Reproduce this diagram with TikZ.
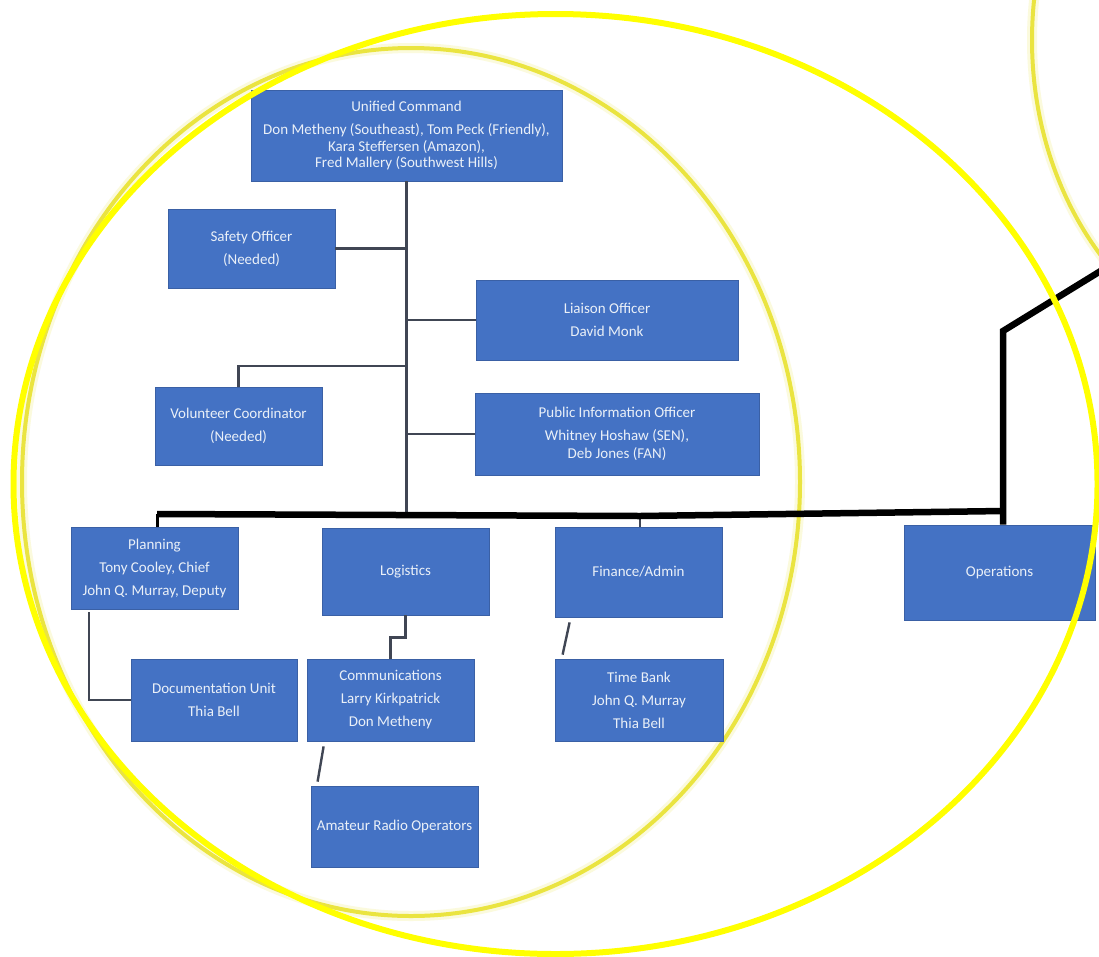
\documentclass[tikz,border=0pt]{standalone}
\usepackage{fontspec}
\setmainfont{Carlito}
\usetikzlibrary{calc}
\begin{document}
\begin{tikzpicture}[x=1pt,y=-1pt,
  box/.style={draw={rgb,255:red,58;green,96;blue,165}, line width=0.8pt,
    fill={rgb,255:red,68;green,114;blue,196},
    text={rgb,255:red,234;green,240;blue,248},
    font=\fontsize{15}{18}\selectfont, align=center, inner sep=0pt},
  link/.style={draw={rgb,255:red,64;green,70;blue,84}, line width=2.4pt},
  bar/.style={draw=black, line width=6.5pt},
  ring/.style={draw={rgb,255:red,255;green,255;blue,0}, line width=6pt},
  softring/.style={draw={rgb,255:red,234;green,228;blue,64}, line width=4pt},
  halo/.style={draw={rgb,255:red,240;green,236;blue,120}, opacity=0.25, line width=10pt}
]
\useasboundingbox (0,0) rectangle (1099,956);
\clip (0,0) rectangle (1099,956);
\fill[white] (0,0) rectangle (1099,956);

% soft highlight rings
\draw[halo] (411,482) ellipse [x radius=389pt, y radius=434pt];
\draw[softring] (411,482) ellipse [x radius=389pt, y radius=434pt];
\draw[halo] (1302,40) ellipse [x radius=270pt, y radius=323pt];
\draw[softring] (1302,40) ellipse [x radius=270pt, y radius=323pt];

% boxes
\node[box, minimum width=311pt, minimum height=91pt] (uc) at (406.5,135.5)
  {Unified Command\\[5pt]Don Metheny (Southeast), Tom Peck (Friendly),\\[-1pt]Kara Steffersen (Amazon),\\[-2pt]Fred Mallery (Southwest Hills)};
\node[box, minimum width=167pt, minimum height=79pt] (safety) at (251.5,248.5)
  {Safety Officer\\[5pt](Needed)};
\node[box, minimum width=262pt, minimum height=80pt] (liaison) at (607,320)
  {Liaison Officer\\[5pt]David Monk};
\node[box, minimum width=167pt, minimum height=78pt] (volunteer) at (238.5,426)
  {Volunteer Coordinator\\[5pt](Needed)};
\node[box, minimum width=284pt, minimum height=82pt] (pio) at (617,434)
  {Public Information Officer\\[5pt]Whitney Hoshaw (SEN),\\Deb Jones (FAN)};
\node[box, minimum width=167pt, minimum height=82pt] (planning) at (154.5,568)
  {Planning\\[5pt]Tony Cooley, Chief\\[5pt]John Q. Murray, Deputy};
\node[box, minimum width=167pt, minimum height=87pt] (logistics) at (405.5,571.5)
  {Logistics};
\node[box, minimum width=167pt, minimum height=90pt] (finance) at (638.5,572)
  {Finance/Admin};
\node[box, minimum width=191pt, minimum height=95pt] (operations) at (999.5,572.5)
  {Operations};
\node[box, minimum width=166pt, minimum height=82pt] (doc) at (214,700)
  {Documentation Unit\\[5pt]Thia Bell};
\node[box, minimum width=167pt, minimum height=82pt] (comms) at (390.5,700)
  {Communications\\[5pt]Larry Kirkpatrick\\[5pt]Don Metheny};
\node[box, minimum width=167pt, minimum height=81pt] (radio) at (394.5,826.5)
  {Amateur Radio Operators};
\node[box, minimum width=168pt, minimum height=82pt] (timebank) at (639,700)
  {Time Bank\\[5pt]John Q. Murray\\[5pt]Thia Bell};

% main bar coordinates
\coordinate (hL) at (157,514);
\coordinate (hM) at (640,516);
\coordinate (hR) at (1003,511);
\coordinate (kink) at (1003,331);
\coordinate (off) at (1125,256);

% command staff connectors
\draw[link] (uc.south) -- (uc.south |- hL);
\draw[link] (safety.east) -- (safety.east -| uc.south);
\draw[link] (liaison.west) -- (liaison.west -| uc.south);
\draw[link] (pio.west) -- (pio.west -| uc.south);
\draw[link] (volunteer.north) |- (uc.south |- 0,366);

% section connectors
\draw[link] ($(planning.south)+(-65.5,3)$) |- (doc.west);
\draw[link] (logistics.south) -- ++(0,22) -| (comms.north);
\draw[link] ($(comms.south west)+(17,5)$) -- ($(radio.north west)+(7,-4)$);
\draw[link] ($(finance.south west)+(15,5)$) -- ($(timebank.north west)+(8,-4)$);
\draw[link] (hM) -- (finance.north -| hM);
\draw[draw=black, line width=3pt] (hL) -- (planning.north -| hL);

% heavy black bars
\draw[bar] (hL) -- (hM) -- (hR);
\draw[bar, line join=miter] (off) -- (kink) -- (kink |- operations.north);

% bright highlight ring
\draw[ring] (555.5,484) ellipse [x radius=542pt, y radius=470pt];
\end{tikzpicture}
\end{document}
